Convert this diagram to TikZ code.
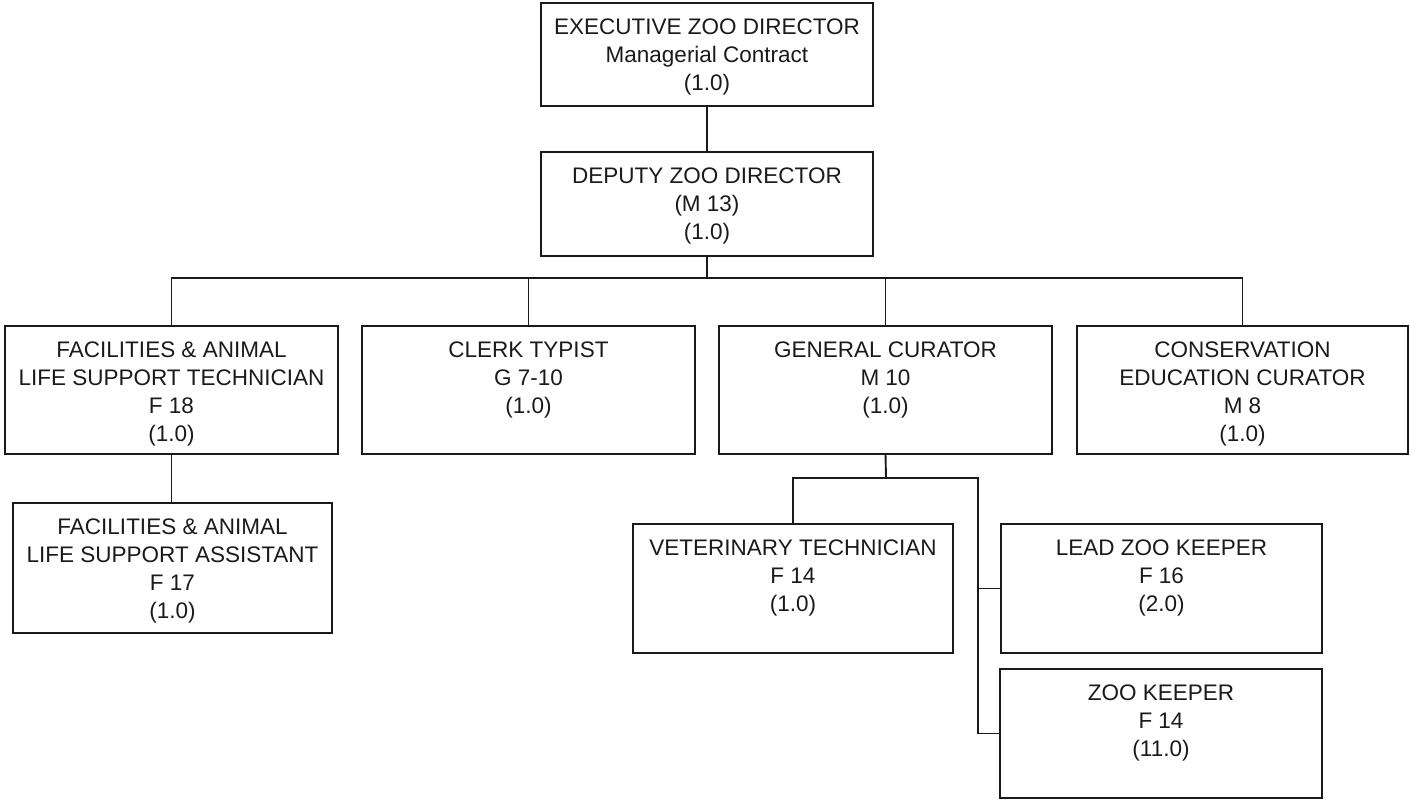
\documentclass[tikz,border=0pt]{standalone}
\usepackage{fontspec}
\setmainfont{Liberation Sans}
\definecolor{ink}{HTML}{1A1A1A}
\newcommand\orgtext[3]{\parbox[c][#2][t]{#1}{\centering\fontsize{22.5pt}{28pt}\selectfont\rule{0pt}{31pt}#3\par}}
\tikzset{
  orgbox/.style={draw=ink, line width=2.1pt, inner sep=0pt, outer sep=0pt, anchor=north west, text=ink},
  link/.style={draw=ink, line width=1.9pt}
}
\begin{document}
\begin{tikzpicture}[x=1pt,y=-1pt]
\useasboundingbox (0,0) rectangle (1410,801);
\node[orgbox] (exec) at (541,3) {\orgtext{332pt}{103pt}{EXECUTIVE ZOO DIRECTOR\\Managerial Contract\\(1.0)}};
\node[orgbox] (dep) at (541,152) {\orgtext{332pt}{104pt}{DEPUTY ZOO DIRECTOR\\(M 13)\\(1.0)}};
\node[orgbox] (fac) at (5,326) {\orgtext{333pt}{128pt}{FACILITIES \& ANIMAL\\LIFE SUPPORT TECHNICIAN\\F 18\\(1.0)}};
\node[orgbox] (clerk) at (362,326) {\orgtext{333pt}{128pt}{CLERK TYPIST\\G 7-10\\(1.0)}};
\node[orgbox] (gen) at (719,326) {\orgtext{333pt}{128pt}{GENERAL CURATOR\\M 10\\(1.0)}};
\node[orgbox] (cons) at (1077,326) {\orgtext{331pt}{128pt}{CONSERVATION\\EDUCATION CURATOR\\M 8\\(1.0)}};
\node[orgbox] (asst) at (13,503) {\orgtext{319pt}{130pt}{FACILITIES \& ANIMAL\\LIFE SUPPORT ASSISTANT\\F 17\\(1.0)}};
\node[orgbox] (vet) at (633,524) {\orgtext{320pt}{129pt}{VETERINARY TECHNICIAN\\F 14\\(1.0)}};
\node[orgbox] (lead) at (1001,524) {\orgtext{321pt}{129pt}{LEAD ZOO KEEPER\\F 16\\(2.0)}};
\node[orgbox] (zk) at (1000,669) {\orgtext{322pt}{129pt}{ZOO KEEPER\\F 14\\(11.0)}};
\coordinate (bus) at (707,278);
\coordinate (g2) at (886,478);
\coordinate (g3) at (978,478);
\draw[link] (exec.south) -- (dep.north);
\draw[link] (dep.south) -- (bus);
\draw[link] (fac.north) |- (bus);
\draw[link] (clerk.north) |- (bus);
\draw[link] (gen.north) |- (bus);
\draw[link] (cons.north) |- (bus);
\draw[link] (fac.south) -- (asst.north -| fac.south);
\draw[link] (gen.south) -- (g2);
\draw[link] (vet.north) |- (g2);
\draw[link] (g2) -- (g3) -- (g3 |- zk.west) -- (zk.west);
\draw[link] (lead.west) -- (g3 |- lead.west);
\end{tikzpicture}
\end{document}
